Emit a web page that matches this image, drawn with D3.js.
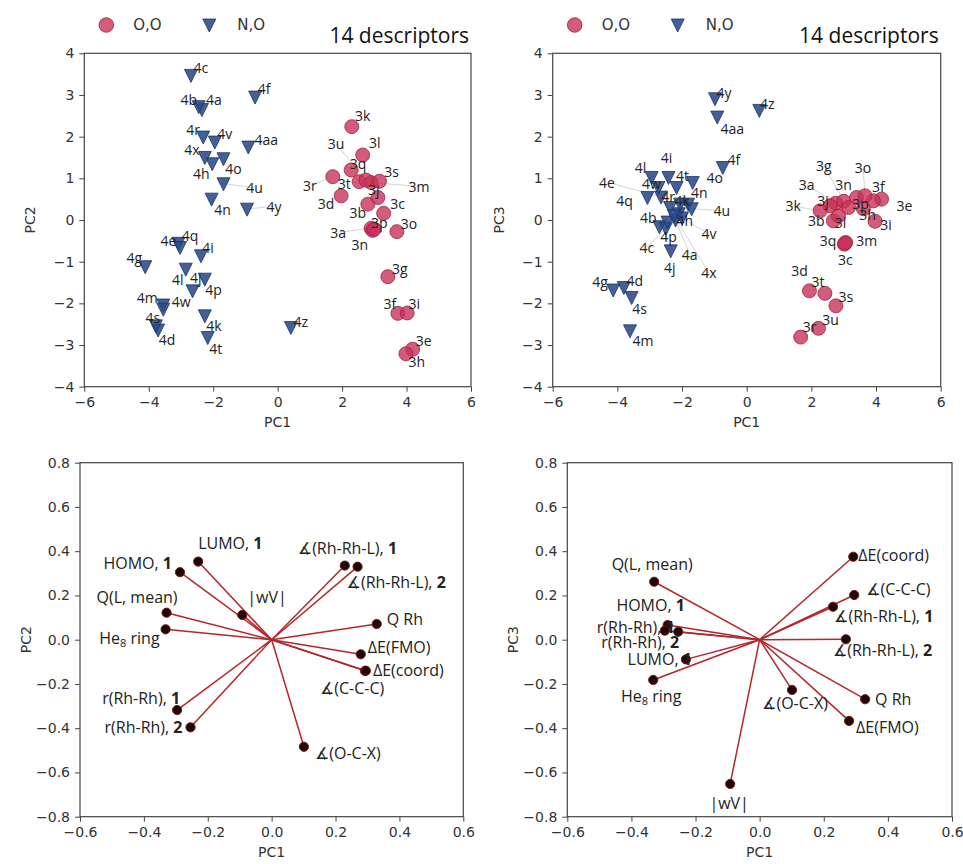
<!DOCTYPE html>
<html>
<head>
<meta charset="utf-8">
<script src="https://cdn.jsdelivr.net/npm/d3@7"></script>
<style>
  body { margin: 0; background: #fff; }
</style>
</head>
<body>
<div id="chart"></div>
<script>
// --- Scores PC1/PC2 (top left) ---
const scoresOO_12 = [
  ["3a", 2.90, -0.20], ["3b", 2.80, 0.38], ["3c", 3.29, 0.16], ["3d", 1.97, 0.58],
  ["3e", 4.19, -3.10], ["3f", 3.73, -2.24], ["3g", 3.42, -1.36], ["3h", 3.98, -3.21],
  ["3i", 4.02, -2.23], ["3j", 3.11, 0.54], ["3k", 2.30, 2.24], ["3l", 2.64, 1.56],
  ["3m", 2.90, 0.90], ["3n", 2.95, -0.25], ["3o", 3.70, -0.28], ["3p", 3.00, -0.22],
  ["3q", 2.28, 1.20], ["3r", 1.71, 1.04], ["3s", 3.16, 0.93], ["3t", 2.53, 0.92],
  ["3u", 2.74, 0.96]
];
const scoresNO_12 = [
  ["4a", -2.35, 2.65], ["4b", -2.45, 2.72], ["4c", -2.69, 3.47], ["4d", -3.71, -2.64],
  ["4e", -3.08, -0.56], ["4f", -0.70, 2.95], ["4g", -4.11, -1.12], ["4h", -2.03, 1.35],
  ["4i", -2.38, -0.86], ["4j", -2.26, -1.42], ["4k", -2.26, -2.30], ["4l", -2.85, -1.18],
  ["4m", -3.55, -2.04], ["4n", -2.05, 0.50], ["4o", -1.68, 1.47], ["4p", -2.64, -1.70],
  ["4q", -3.03, -0.66], ["4r", -2.31, 1.99], ["4s", -3.78, -2.54], ["4t", -2.17, -2.82],
  ["4u", -1.68, 0.87], ["4v", -1.95, 1.87], ["4w", -3.55, -2.14], ["4x", -2.26, 1.50],
  ["4y", -0.95, 0.26], ["4z", 0.41, -2.58], ["4aa", -0.91, 1.75]
];

// --- Scores PC1/PC3 (top right) ---
const scoresOO_13 = [
  ["3a", 2.75, 0.40], ["3b", 2.68, -0.02], ["3c", 3.02, -0.58], ["3d", 1.94, -1.70],
  ["3e", 4.17, 0.50], ["3f", 3.92, 0.46], ["3g", 3.00, 0.45], ["3h", 3.61, 0.27],
  ["3i", 3.97, -0.03], ["3j", 2.58, 0.34], ["3k", 2.27, 0.22], ["3l", 2.84, 0.10],
  ["3m", 3.06, -0.54], ["3n", 3.40, 0.54], ["3o", 3.66, 0.58], ["3p", 3.15, 0.30],
  ["3q", 3.04, -0.56], ["3r", 1.67, -2.81], ["3s", 2.76, -2.06], ["3t", 2.42, -1.76],
  ["3u", 2.22, -2.60]
];
const scoresNO_13 = [
  ["4a", -2.20, 0.00], ["4b", -2.70, -0.16], ["4c", -2.50, -0.20], ["4d", -3.80, -1.62],
  ["4e", -2.65, 0.55], ["4f", -0.74, 1.26], ["4g", -4.13, -1.68], ["4h", -2.10, 0.15],
  ["4i", -2.42, 1.02], ["4j", -2.35, -0.74], ["4k", -2.06, 0.38], ["4l", -2.94, 1.02],
  ["4m", -3.61, -2.66], ["4n", -1.81, 0.38], ["4o", -1.67, 0.90], ["4p", -2.45, -0.05],
  ["4q", -3.07, 0.54], ["4r", -2.37, 0.30], ["4s", -3.56, -1.86], ["4t", -2.17, 0.78],
  ["4u", -1.70, 0.27], ["4v", -2.00, 0.05], ["4w", -2.73, 0.78], ["4x", -2.25, 0.10],
  ["4y", -0.98, 2.91], ["4z", 0.39, 2.63], ["4aa", -0.91, 2.47]
];

// --- Loadings (bottom) ---
const descriptors = ["HOMO, 1", "LUMO, 1", "|wV|", "Q(L, mean)", "He8 ring",
  "∡(Rh-Rh-L), 1", "∡(Rh-Rh-L), 2", "Q Rh", "ΔE(FMO)", "ΔE(coord)",
  "∡(C-C-C)", "r(Rh-Rh), 1", "r(Rh-Rh), 2", "∡(O-C-X)"];
const loadPC1 = [-0.287, -0.230, -0.092, -0.329, -0.332, 0.229, 0.269, 0.329, 0.279, 0.292, 0.295, -0.296, -0.254, 0.101];
const loadPC2 = [0.305, 0.353, 0.112, 0.122, 0.047, 0.335, 0.330, 0.071, -0.066, -0.141, -0.140, -0.318, -0.396, -0.484];
const loadPC3 = [0.066, -0.089, -0.652, 0.262, -0.182, 0.149, 0.002, -0.269, -0.367, 0.375, 0.202, 0.041, 0.036, -0.227];

const scoreTicksX = [-6, -4, -2, 0, 2, 4, 6];
const scoreTicksY = [-4, -3, -2, -1, 0, 1, 2, 3, 4];
const loadTicksX = [-0.6, -0.4, -0.2, 0, 0.2, 0.4, 0.6];
const loadTicksY = [-0.8, -0.6, -0.4, -0.2, 0, 0.2, 0.4, 0.6, 0.8];

// --- Label nudges (px, label centre relative to marker) ---
const nudgeTL = {
  "4a": [12, -10], "4b": [-10, -7], "4c": [10, -8], "4d": [9, 9], "4e": [-10, -3], "4f": [9, -9],
  "4g": [-11, -9], "4h": [-11, 10], "4i": [7, -8], "4j": [-9, -2], "4k": [9, 10], "4l": [-8, 10],
  "4m": [-16, -8], "4n": [11, 10], "4o": [10, 10], "4p": [21, -1], "4q": [10, -12], "4r": [-10, -8],
  "4s": [-3, -8], "4t": [8, 11], "4u": [31, 4], "4v": [10, -9], "4w": [18, -8], "4x": [-13, -8],
  "4y": [27, -3], "4z": [10, -6], "4aa": [18, -8],
  "3a": [-33, 4], "3b": [-10, 8], "3c": [14, -10], "3d": [-15, 8], "3e": [11, -9], "3f": [-8, -10],
  "3g": [12, -8], "3h": [11, 8], "3i": [7, -9], "3j": [-4, -8], "3k": [11, -11], "3l": [12, -12],
  "3m": [48, 4], "3n": [-13, 14], "3o": [12, -8], "3p": [5, -7], "3q": [7, -6], "3r": [-23, 9],
  "3s": [12, -10], "3t": [-15, 2], "3u": [-30, -36]
};
const nudgeTR = {
  "4a": [14, 34], "4b": [-11, -9], "4c": [-19, 19], "4d": [11, -7], "4e": [-54, -15], "4f": [11, -8],
  "4g": [-13, -9], "4h": [6, 7], "4i": [-2, -20], "4j": [-1, 17], "4k": [2, -4], "4l": [-11, -10],
  "4m": [13, 10], "4n": [11, -12], "4o": [22, -5], "4p": [1, 14], "4q": [-23, 3], "4r": [-2, -11],
  "4s": [8, 11], "4t": [6, -12], "4u": [30, 2], "4v": [27, 16], "4w": [-7, -4], "4x": [35, 57],
  "4y": [9, -6], "4z": [8, -7], "4aa": [15, 11],
  "3a": [-29, -19], "3b": [-17, 0], "3c": [1, 15], "3d": [-10, -20], "3e": [23, 6], "3f": [5, -14],
  "3g": [-20, -36], "3h": [4, 6], "3i": [11, 3], "3j": [-7, -5], "3k": [-27, -5], "3l": [2, 7],
  "3m": [21, -2], "3n": [-13, -13], "3o": [-2, -28], "3p": [12, -4], "3q": [-17, -3], "3r": [9, -11],
  "3s": [10, -9], "3t": [-7, -12], "3u": [12, -9]
};
const placeBL = {
  "HOMO, 1": ["end", -8, -9], "LUMO, 1": ["start", 0, -19], "|wV|": ["start", 5, -18],
  "Q(L, mean)": ["end", 11, -16], "He8 ring": ["end", -6, 9], "∡(Rh-Rh-L), 1": ["start", -47, -18],
  "∡(Rh-Rh-L), 2": ["start", -11, 15], "Q Rh": ["start", 10, -5], "ΔE(FMO)": ["start", 7, -7],
  "ΔE(coord)": ["start", 8, -1], "∡(C-C-C)": ["start", -46, 17], "r(Rh-Rh), 1": ["end", 3, -12],
  "r(Rh-Rh), 2": ["end", -8, 0], "∡(O-C-X)": ["start", 11, 6]
};
const placeBR = {
  "HOMO, 1": ["middle", -17, -20], "LUMO, 1": ["end", 6, 0], "|wV|": ["middle", -1, 19],
  "Q(L, mean)": ["middle", -2, -18], "He8 ring": ["middle", -2, 16], "∡(Rh-Rh-L), 1": ["start", 1, 9],
  "∡(Rh-Rh-L), 2": ["start", -13, 11], "Q Rh": ["start", 10, 0], "ΔE(FMO)": ["start", 7, 6],
  "ΔE(coord)": ["start", 5, -2], "∡(C-C-C)": ["start", 12, -6], "r(Rh-Rh), 1": ["end", 10, -4],
  "r(Rh-Rh), 2": ["end", 1, 10], "∡(O-C-X)": ["middle", 3, 13]
};

// --- Layout ---
const boxTL = { l: 84.3, r: 471, t: 53.3, b: 386.7 };
const boxTR = { l: 552.7, r: 940.7, t: 53.3, b: 386.7 };
const boxBL = { l: 80, r: 463.3, t: 462.7, b: 816.7 };
const boxBR = { l: 567.3, r: 952, t: 462.7, b: 816.7 };

const RED = "#c8325a", BLUE = "#2a4a87";
const tickFont = "DejaVu Sans, sans-serif";
const labFont = "Open Sans, DejaVu Sans, sans-serif";
const triPath = "M-6.5,-6 L6.5,-6 L0,7 Z";

const svg = d3.select("#chart").append("svg")
  .attr("width", 963).attr("height", 864)
  .style("background", "#fff");

// --- Panel frame + axes ---
function panel(box, xDom, yDom, xT, yT, fmt, yTitle) {
  const x = d3.scaleLinear().domain(xDom).range([box.l, box.r]);
  const y = d3.scaleLinear().domain(yDom).range([box.b, box.t]);
  const g = svg.append("g");

  const ax = g.append("g").attr("transform", `translate(0,${box.b})`)
    .call(d3.axisBottom(x).tickValues(xT).tickFormat(fmt).tickSize(5).tickPadding(5));
  const ay = g.append("g").attr("transform", `translate(${box.l},0)`)
    .call(d3.axisLeft(y).tickValues(yT).tickFormat(fmt).tickSize(5).tickPadding(5));
  [ax, ay].forEach(a => {
    a.select(".domain").remove();
    a.selectAll("line").attr("stroke", "#444");
    a.selectAll("text").attr("font-family", tickFont).attr("font-size", "14px").attr("fill", "#333");
  });

  g.append("rect")
    .attr("x", box.l).attr("y", box.t)
    .attr("width", box.r - box.l).attr("height", box.b - box.t)
    .attr("fill", "none").attr("stroke", "#444").attr("stroke-width", 1.2);

  g.append("text")
    .attr("x", (box.l + box.r) / 2).attr("y", box.b + 40)
    .attr("text-anchor", "middle").attr("font-family", tickFont)
    .attr("font-size", "14px").attr("fill", "#333").text("PC1");
  const yc = (box.t + box.b) / 2;
  g.append("text")
    .attr("transform", `translate(${box.l - 49},${yc}) rotate(-90)`)
    .attr("text-anchor", "middle").attr("font-family", tickFont)
    .attr("font-size", "14px").attr("fill", "#333").text(yTitle);
  return { g, x, y };
}

// --- Score plot ---
function scorePlot(box, oo, no, nudge, yTitle) {
  const { g, x, y } = panel(box, [-6, 6], [-4, 4], scoreTicksX, scoreTicksY, d3.format("d"), yTitle);
  const all = oo.concat(no);

  // faint leader lines for labels pushed far away
  g.selectAll(".lead").data(all.filter(d => Math.hypot(...nudge[d[0]]) > 24)).enter()
    .append("line")
      .attr("x1", d => x(d[1])).attr("y1", d => y(d[2]))
      .attr("x2", d => x(d[1]) + nudge[d[0]][0]).attr("y2", d => y(d[2]) + nudge[d[0]][1])
      .attr("stroke", "#c8c8c8").attr("stroke-width", 0.8);

  g.selectAll(".oo").data(oo).enter()
    .append("circle")
      .attr("cx", d => x(d[1])).attr("cy", d => y(d[2])).attr("r", 7)
      .attr("fill", RED).attr("fill-opacity", 0.8)
      .attr("stroke", "#a3203f").attr("stroke-width", 0.8);

  g.selectAll(".no").data(no).enter()
    .append("path")
      .attr("d", triPath)
      .attr("transform", d => `translate(${x(d[1])},${y(d[2])})`)
      .attr("fill", BLUE).attr("fill-opacity", 0.88)
      .attr("stroke", "#1d3466").attr("stroke-width", 0.8);

  g.selectAll(".lab").data(all).enter()
    .append("text")
      .attr("x", d => x(d[1]) + nudge[d[0]][0])
      .attr("y", d => y(d[2]) + nudge[d[0]][1])
      .attr("text-anchor", "middle").attr("dominant-baseline", "central")
      .attr("font-family", labFont).attr("font-size", "14px").attr("fill", "#222")
      .text(d => d[0]);

  // title + legend
  svg.append("text")
    .attr("x", box.r - 2).attr("y", 43).attr("text-anchor", "end")
    .attr("font-family", labFont).attr("font-size", "21px").attr("fill", "#111")
    .text("14 descriptors");
  const lx = box.l + 22;
  svg.append("circle").attr("cx", lx).attr("cy", 25).attr("r", 7.3)
    .attr("fill", RED).attr("fill-opacity", 0.8).attr("stroke", "#a3203f").attr("stroke-width", 0.8);
  svg.append("text").attr("x", lx + 27).attr("y", 25).attr("dominant-baseline", "central")
    .attr("font-family", tickFont).attr("font-size", "15px").attr("fill", "#333").text("O,O");
  svg.append("path").attr("d", triPath).attr("transform", `translate(${lx + 103},25)`)
    .attr("fill", BLUE).attr("fill-opacity", 0.88).attr("stroke", "#1d3466").attr("stroke-width", 0.8);
  svg.append("text").attr("x", lx + 131).attr("y", 25).attr("dominant-baseline", "central")
    .attr("font-family", tickFont).attr("font-size", "15px").attr("fill", "#333").text("N,O");
}

// --- Rich descriptor label (bold index, subscript 8) ---
function richLabel(t, name) {
  const m = name.match(/^(.*, )([12])$/);
  if (m) {
    t.append("tspan").text(m[1]);
    t.append("tspan").attr("font-weight", "bold").text(m[2]);
  } else if (name.startsWith("He8")) {
    t.append("tspan").text("He");
    t.append("tspan").attr("font-size", "11px").attr("dy", 4).text("8");
    t.append("tspan").attr("dy", -4).text(" ring");
  } else {
    t.text(name);
  }
}

// --- Loading plot ---
function loadPlot(box, ys, place, yTitle) {
  const fmt = d => d3.format(".1f")(d);
  const { g, x, y } = panel(box, [-0.6, 0.6], [-0.8, 0.8], loadTicksX, loadTicksY, fmt, yTitle);
  const rows = descriptors.map((n, i) => ({ name: n, a: loadPC1[i], b: ys[i] }));

  g.selectAll(".vec").data(rows).enter()
    .append("line")
      .attr("x1", x(0)).attr("y1", y(0))
      .attr("x2", d => x(d.a)).attr("y2", d => y(d.b))
      .attr("stroke", "#b3262b").attr("stroke-width", 1.5);

  g.selectAll(".tip").data(rows).enter()
    .append("circle")
      .attr("cx", d => x(d.a)).attr("cy", d => y(d.b)).attr("r", 4.6)
      .attr("fill", "#1e0707").attr("stroke", "#7a1515").attr("stroke-width", 1);

  rows.forEach(d => {
    const p = place[d.name];
    const t = g.append("text")
      .attr("x", x(d.a) + p[1]).attr("y", y(d.b) + p[2])
      .attr("text-anchor", p[0]).attr("dominant-baseline", "central")
      .attr("font-family", labFont).attr("font-size", "16px").attr("fill", "#222");
    richLabel(t, d.name);
  });
}

scorePlot(boxTL, scoresOO_12, scoresNO_12, nudgeTL, "PC2");
scorePlot(boxTR, scoresOO_13, scoresNO_13, nudgeTR, "PC3");
loadPlot(boxBL, loadPC2, placeBL, "PC2");
loadPlot(boxBR, loadPC3, placeBR, "PC3");
</script>
</body>
</html>
